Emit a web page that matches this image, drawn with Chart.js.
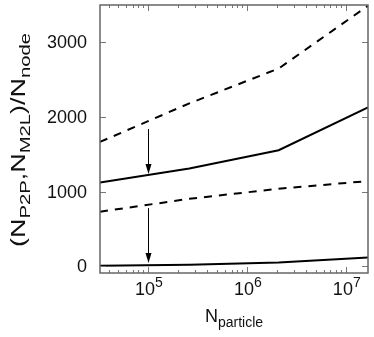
<!DOCTYPE html>
<html>
<head>
<meta charset="utf-8">
<script src="https://cdn.jsdelivr.net/npm/chart.js@4/dist/chart.umd.min.js"></script>
<style>
  body { margin: 0; background: #fff; }
  canvas { display: block; }
</style>
</head>
<body>
<canvas id="chart" width="374" height="337"></canvas>
<script>
// particle counts (2^15 .. 2^24)
const nParticle = [32768, 262144, 2097152, 16777216];
// interaction counts per node, before (dashed) and after (solid)
const p2pBefore = [1667, 2183, 2650, 3490];
const p2pAfter = [1125, 1312, 1556, 2130];
const m2lBefore = [733, 905, 1040, 1143];
const m2lAfter = [9, 22, 53, 120];

// arrows drawn at N = 1e5
const arrowX = [1e5, 1e5];
const arrowFrom = [1840, 780];
const arrowTo = [1238, 45];

const yTicks = [0, 1000, 2000, 3000];
const xTicks = [1e5, 1e6, 1e7];
const xExp = ['5', '6', '7'];

const FONT = '"Liberation Sans", Arial, Helvetica, sans-serif';

function series(ys, dashed) {
    return {
        data: nParticle.map((x, i) => ({ x: x, y: ys[i] })),
        borderColor: '#000',
        borderWidth: 2,
        borderDash: dashed ? [8, 7] : [],
        pointRadius: 0,
        fill: false,
        tension: 0,
    };
}

function measureRich(ctx, parts) {
    let total = 0;
    parts.forEach(p => {
        ctx.font = p.size + 'px ' + FONT;
        p.w = ctx.measureText(p.text).width;
        total += p.w;
    });
    return total;
}

// draws a line of text with sub/superscripts, centred on cx
function drawRich(ctx, parts, cx, baseY) {
    const total = measureRich(ctx, parts);
    let x = cx - total / 2;
    ctx.textAlign = 'left';
    ctx.textBaseline = 'alphabetic';
    parts.forEach(p => {
        ctx.font = p.size + 'px ' + FONT;
        ctx.fillText(p.text, x, baseY + (p.dy || 0));
        x += p.w;
    });
}

const decorations = {
    id: 'decorations',
    afterDraw(chart) {
        const ctx = chart.ctx;
        const a = chart.chartArea;
        const xs = chart.scales.x;
        const ys = chart.scales.y;
        ctx.save();

        // arrows
        ctx.strokeStyle = '#000';
        ctx.fillStyle = '#000';
        ctx.lineWidth = 1;
        arrowX.forEach((v, i) => {
            const px = Math.round(xs.getPixelForValue(v)) + 0.5;
            const y0 = ys.getPixelForValue(arrowFrom[i]);
            const y1 = ys.getPixelForValue(arrowTo[i]);
            ctx.beginPath();
            ctx.moveTo(px, y0);
            ctx.lineTo(px, y1 - 8);
            ctx.stroke();
            ctx.beginPath();
            ctx.moveTo(px - 3, y1 - 10);
            ctx.lineTo(px + 3, y1 - 10);
            ctx.lineTo(px, y1);
            ctx.closePath();
            ctx.fill();
        });

        // tick marks, pointing inward on all four sides
        ctx.strokeStyle = '#777';
        ctx.lineWidth = 1;
        ctx.beginPath();
        yTicks.forEach(v => {
            const py = Math.round(ys.getPixelForValue(v)) + 0.5;
            ctx.moveTo(a.left, py); ctx.lineTo(a.left + 6, py);
            ctx.moveTo(a.right, py); ctx.lineTo(a.right - 6, py);
        });
        for (let e = 4; e <= 7; e++) {
            for (let m = 1; m <= 9; m++) {
                const v = m * Math.pow(10, e);
                if (v < xs.min || v > xs.max) continue;
                const px = Math.round(xs.getPixelForValue(v)) + 0.5;
                const len = m === 1 ? 6 : 3;
                ctx.moveTo(px, a.bottom); ctx.lineTo(px, a.bottom - len);
                ctx.moveTo(px, a.top); ctx.lineTo(px, a.top + len);
            }
        }
        ctx.stroke();

        // frame
        ctx.strokeStyle = '#666';
        ctx.lineWidth = 1.5;
        ctx.strokeRect(a.left, a.top, a.right - a.left, a.bottom - a.top);

        // y tick labels
        ctx.fillStyle = '#111';
        ctx.font = '18px ' + FONT;
        ctx.textAlign = 'right';
        ctx.textBaseline = 'middle';
        yTicks.forEach(v => {
            ctx.fillText(String(v), a.left - 13, ys.getPixelForValue(v) + 1);
        });

        // x tick labels 10^n
        xTicks.forEach((v, i) => {
            drawRich(ctx, [
                { text: '10', size: 18 },
                { text: xExp[i], size: 14, dy: -8 },
            ], xs.getPixelForValue(v) + 1, a.bottom + 22);
        });

        // x title
        drawRich(ctx, [
            { text: 'N', size: 18 },
            { text: 'particle', size: 14, dy: 5 },
        ], (a.left + a.right) / 2, a.bottom + 49);

        // y title (a little stretched along its length, like the original)
        const yTitle = [
            { text: '(N', size: 20 },
            { text: 'P2P', size: 15, dy: 5 },
            { text: ',N', size: 20 },
            { text: 'M2L', size: 15, dy: 5 },
            { text: ')/N', size: 20 },
            { text: 'node', size: 15, dy: 5 },
        ];
        const stretch = 214 / measureRich(ctx, yTitle);
        ctx.translate(25, (a.top + a.bottom) / 2 + 1);
        ctx.rotate(-Math.PI / 2);
        ctx.scale(stretch, 1);
        drawRich(ctx, yTitle, 0, 0);

        ctx.restore();
    }
};

new Chart(document.getElementById('chart'), {
    type: 'line',
    data: {
        datasets: [
            series(p2pBefore, true),
            series(p2pAfter, false),
            series(m2lBefore, true),
            series(m2lAfter, false),
        ],
    },
    options: {
        responsive: false,
        animation: false,
        layout: { padding: { top: 5, right: 6, left: 0, bottom: 0 } },
        plugins: { legend: { display: false }, tooltip: { enabled: false } },
        scales: {
            x: {
                type: 'logarithmic',
                min: 32768,
                max: 16777216,
                grid: { display: false },
                border: { display: false },
                ticks: { display: false },
                afterFit: s => { s.height = 64; },
            },
            y: {
                type: 'linear',
                min: -88,
                max: 3500,
                grid: { display: false },
                border: { display: false },
                ticks: { display: false },
                afterFit: s => { s.width = 100; },
            },
        },
    },
    plugins: [decorations],
});
</script>
</body>
</html>
